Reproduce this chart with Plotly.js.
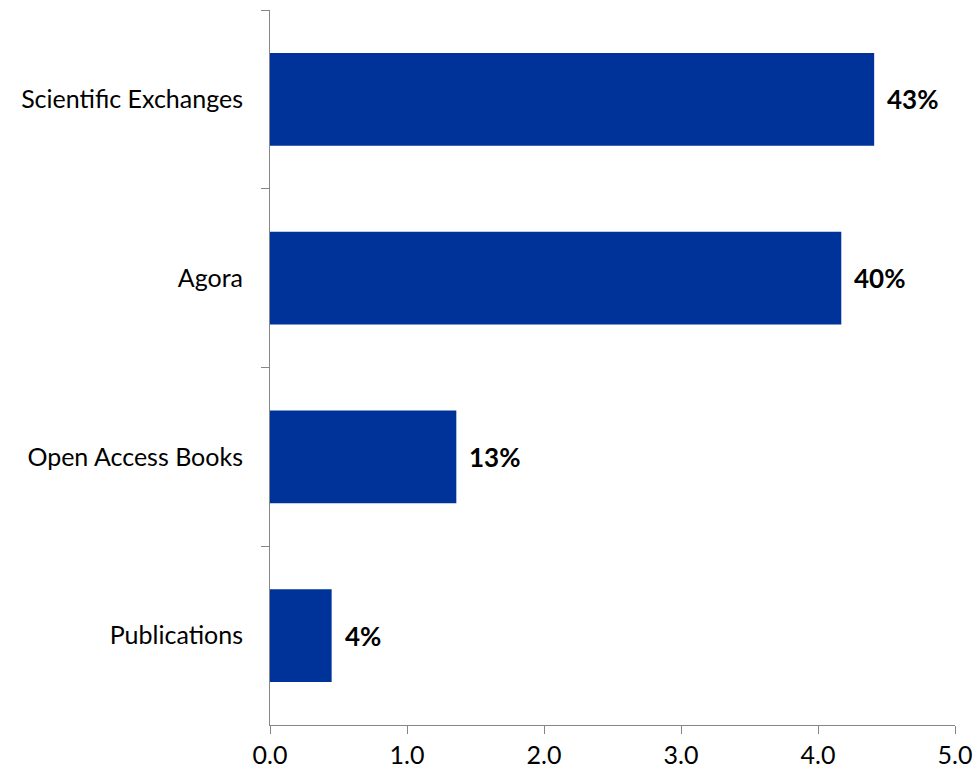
<!DOCTYPE html>
<html>
<head>
<meta charset="utf-8">
<script src="https://cdn.plot.ly/plotly-3.0.1.min.js"></script>
<style>html,body{margin:0;padding:0;background:#fff;}#chart{width:978px;height:774px;}</style>
</head>
<body>
<div id="chart"></div>
<script>
var categories = ["Scientific Exchanges", "Agora", "Open Access Books", "Publications"];
var values = [4.41, 4.17, 1.36, 0.45];
var labels = ["43%", "40%", "13%", "4%"];
var xTicks = [0, 1, 2, 3, 4, 5];

var fontFam = "Lato, 'Liberation Sans', sans-serif";

var trace = {
  type: "bar",
  orientation: "h",
  y: categories,
  x: values,
  width: 0.52,
  marker: {color: "#003399", line: {width: 0}},
  hoverinfo: "none"
};

var annotations = categories.map(function(c, i) {
  return {
    x: values[i], y: c, xref: "x", yref: "y",
    text: "<b>" + labels[i] + "</b>",
    showarrow: false, xanchor: "left", yanchor: "middle",
    xshift: 11,
    font: {family: fontFam, size: 26, color: "#000"}
  };
});

var layout = {
  width: 978, height: 774,
  margin: {l: 270, r: 23, t: 10, b: 49, pad: 0},
  paper_bgcolor: "#fff", plot_bgcolor: "#fff",
  showlegend: false,
  xaxis: {
    range: [0, 5], tickvals: xTicks, tickformat: ".1f",
    showgrid: false, zeroline: false,
    showline: true, linecolor: "#868686", linewidth: 1,
    ticks: "outside", ticklen: 8, tickcolor: "#868686",
    tickfont: {family: fontFam, size: 25, color: "#000"}
  },
  yaxis: {
    type: "category", range: [3.5, -0.5],
    tickson: "boundaries",
    showgrid: false, zeroline: false,
    showline: true, linecolor: "#868686", linewidth: 1,
    ticks: "outside", ticklen: 8, tickcolor: "#868686",
    ticklabelstandoff: 21,
    tickfont: {family: fontFam, size: 25, color: "#000"}
  },
  annotations: annotations
};

Plotly.newPlot("chart", [trace], layout, {displayModeBar: false, staticPlot: true});
</script>
</body>
</html>
